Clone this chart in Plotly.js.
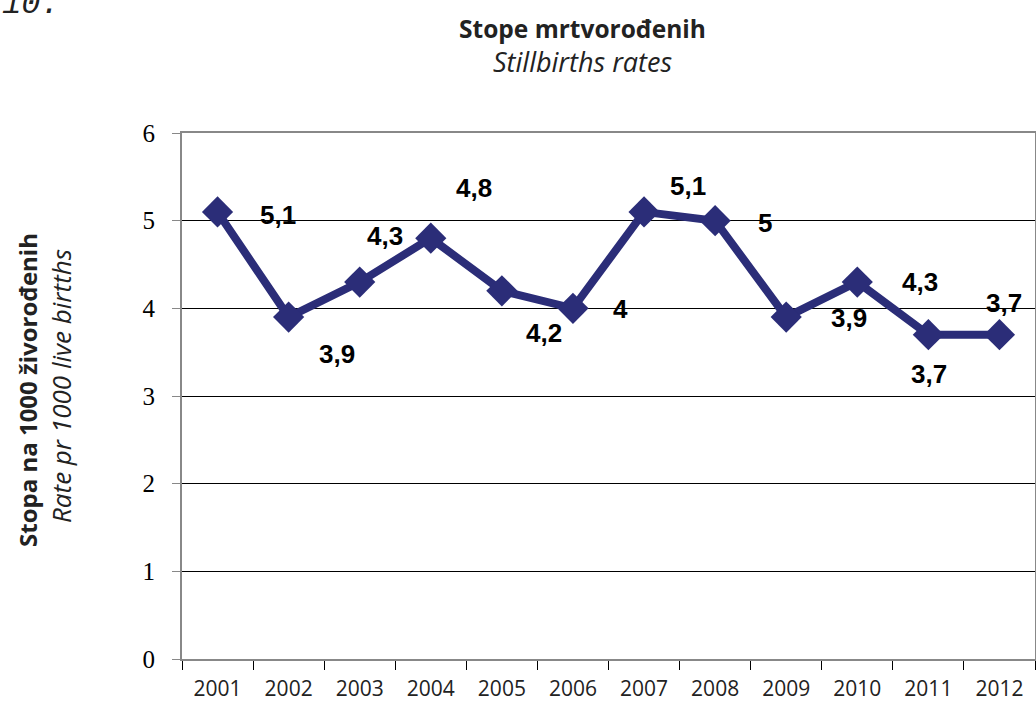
<!DOCTYPE html>
<html>
<head>
<meta charset="utf-8">
<script src="https://cdn.plot.ly/plotly-3.0.1.min.js"></script>
<style>html,body{margin:0;padding:0;background:#fff;}#chart{width:1036px;height:704px;}</style>
</head>
<body>
<div id="chart"></div>
<script>
const years = ['2001','2002','2003','2004','2005','2006','2007','2008','2009','2010','2011','2012'];
const rates = [5.1, 3.9, 4.3, 4.8, 4.2, 4.0, 5.1, 5.0, 3.9, 4.3, 3.7, 3.7];
const yTicks = [0, 1, 2, 3, 4, 5, 6];

// label offsets in pixels (screen), relative to each point
const labelDx = [60, 48, 25, 43, 42, 48, 44, 50, 63, 63, 1, 5];
const labelDy = [3, 37, -46, -50, 42, 1, -26, 2, 1, 0, 39, -32];

const lineColor = '#2B2D78';

const trace = {
  x: years, y: rates, type: 'scatter', mode: 'lines+markers',
  line: {color: lineColor, width: 8},
  marker: {symbol: 'diamond', size: 24, color: lineColor},
  hoverinfo: 'skip', cliponaxis: false
};

const fmt = v => String(v).replace('.', ',');

const annotations = rates.map((v, i) => ({
  x: i, y: v, xref: 'x', yref: 'y', text: '<b>' + fmt(v) + '</b>', showarrow: false,
  xanchor: 'center', yanchor: 'middle',
  xshift: labelDx[i], yshift: -labelDy[i],
  font: {family: 'Liberation Sans, Arial, sans-serif', size: 26, color: '#000'}
}));

const W = 853, H = 526;
annotations.push(
  {xref: 'paper', yref: 'paper', x: (27 - 182) / W, y: (659 - 390) / H, xanchor: 'center', yanchor: 'middle', textangle: -90,
   text: '<b>Stopa na 1000 živorođenih</b>', showarrow: false,
   font: {family: 'Open Sans, sans-serif', size: 24, color: '#222'}},
  {xref: 'paper', yref: 'paper', x: (61 - 182) / W, y: (659 - 386) / H, xanchor: 'center', yanchor: 'middle', textangle: -90,
   text: '<i>Rate pr 1000 live birtths</i>', showarrow: false,
   font: {family: 'Open Sans, sans-serif', size: 26, color: '#222'}},
  {xref: 'paper', yref: 'paper', x: 0.47, y: 1, xanchor: 'center', yanchor: 'middle', yshift: 105,
   text: '<b>Stope mrtvorođenih</b>', showarrow: false,
   font: {family: 'Open Sans, sans-serif', size: 24.5, color: '#222'}},
  {xref: 'paper', yref: 'paper', x: 0.47, y: 1, xanchor: 'center', yanchor: 'middle', yshift: 72,
   text: '<i>Stillbirths rates</i>', showarrow: false,
   font: {family: 'Open Sans, sans-serif', size: 27, color: '#222'}},
  {xref: 'paper', yref: 'paper', x: 0, y: 1, xanchor: 'left', yanchor: 'bottom', xshift: -182, yshift: 108,
   text: '<i>10.</i>', showarrow: false,
   font: {family: 'Liberation Mono, Courier New, monospace', size: 32, color: '#222'}}
);

const layout = {
  width: 1036, height: 704,
  margin: {l: 182, r: 1, t: 133, b: 45},
  paper_bgcolor: '#fff', plot_bgcolor: '#fff',
  showlegend: false,
  xaxis: {
    type: 'category', tickson: 'boundaries', ticks: 'outside', ticklen: 9, tickcolor: '#000', tickwidth: 1,
    showline: true, linecolor: '#888', linewidth: 2, mirror: true,
    showgrid: false, zeroline: false,
    tickfont: {family: 'Open Sans, sans-serif', size: 21, color: '#222'},
    ticklabelstandoff: 10,
    range: [-0.5, 11.5]
  },
  yaxis: {
    range: [0, 6], tickvals: yTicks, ticktext: yTicks.map(String),
    ticks: 'outside', ticklen: 8, tickcolor: '#888', tickwidth: 1,
    showline: true, linecolor: '#888', linewidth: 2, mirror: true,
    showgrid: true, gridcolor: '#000', gridwidth: 1, zeroline: false,
    tickfont: {family: 'Liberation Serif, Times New Roman, serif', size: 25, color: '#000'},
    ticklabelstandoff: 12
  },
  annotations: annotations
};

Plotly.newPlot('chart', [trace], layout, {displayModeBar: false, staticPlot: true});
</script>
</body>
</html>
